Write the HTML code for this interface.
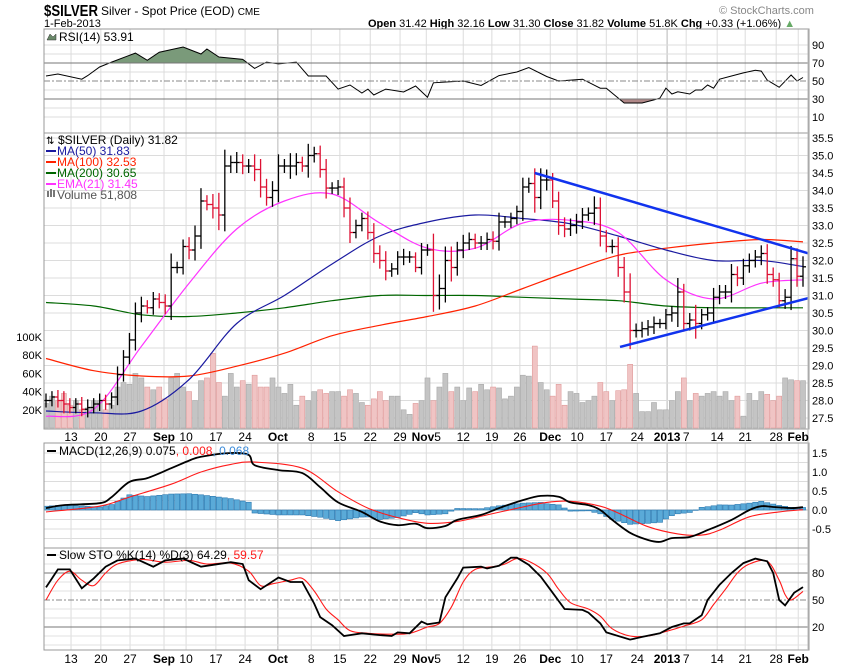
<!DOCTYPE html>
<html><head><meta charset="utf-8"><style>
body{margin:0;background:#fff;}
svg{display:block;font-family:"Liberation Sans",Arial,sans-serif;}
</style></head><body>
<svg id="chart" width="850" height="668" viewBox="0 0 850 668" xmlns="http://www.w3.org/2000/svg">
<text x="44" y="16" font-size="16" font-weight="bold" textLength="54" lengthAdjust="spacingAndGlyphs">$SILVER</text>
<text x="101" y="15" font-size="12">Silver - Spot Price (EOD) <tspan font-size="10">CME</tspan></text>
<text x="44" y="27" font-size="11">1-Feb-2013</text>
<text x="368" y="27" font-size="11"><tspan font-weight="bold">Open</tspan> 31.42 <tspan font-weight="bold">High</tspan> 32.16 <tspan font-weight="bold">Low</tspan> 31.30 <tspan font-weight="bold">Close</tspan> 31.82 <tspan font-weight="bold">Volume</tspan> 51.8K <tspan font-weight="bold">Chg</tspan> +0.33 (+1.06%) <tspan fill="#6a6">▲</tspan></text>
<text x="719" y="14" font-size="11" fill="#888">© StockCharts.com</text>
</svg>
<script>
const closes=[28.0,28.1,28.0,27.9,27.8,27.9,27.75,27.8,27.9,28.0,27.9,28.1,
28.74,29.24,29.73,30.5,30.7,30.65,30.9,30.8,30.7,31.8,31.8,32.4,32.3,32.7,33.7,33.6,33.5,33.3,34.7,34.8,34.8,34.7,34.7,34.6,34.1,33.8,34.0,34.7,34.7,34.7,34.8,34.7,35.0,35.05,
34.6,34.07,34.07,34.1,33.5,32.8,33.0,33.2,32.8,32.2,32.0,31.7,31.76,32.1,32.1,32.1,31.8,32.3,32.3,31.0,31.2,32.0,31.8,32.3,32.5,32.6,32.5,32.5,32.6,32.55,33.1,33.1,33.2,33.4,34.1,34.2,33.8,34.3,34.3,33.7,33.0,32.9,
33.0,33.1,33.3,33.35,33.5,32.7,32.4,32.4,31.8,31.1,30.0,30.0,30.05,30.1,30.2,30.2,30.45,30.5,31.1,30.2,30.3,30.2,30.45,30.5,30.95,31.1,31.1,31.6,31.5,31.85,32.0,32.1,32.2,31.6,31.45,30.85,30.95,32.05,31.55,31.82];
const ranges=[0.6,0.5,0.6,0.8,0.5,0.5,0.6,0.7,0.5,0.6,0.5,0.4,
0.7,0.6,0.6,0.9,0.8,0.5,0.6,0.5,0.7,1.2,0.5,0.6,0.8,0.9,1.1,0.5,0.9,1.3,1.4,0.6,0.9,0.7,0.6,1.0,0.9,0.7,0.8,1.0,0.6,1.1,0.8,0.5,1.0,0.6,
0.7,0.9,0.5,0.6,0.8,0.9,0.5,0.5,0.6,0.8,0.7,0.8,0.5,0.5,0.7,0.5,0.4,0.6,0.5,1.4,1.2,1.2,1.2,0.7,0.7,0.6,0.5,0.6,0.6,0.7,0.8,0.5,0.5,0.5,0.8,0.5,1.3,1.0,0.9,0.6,0.8,0.7,
0.6,0.7,0.6,0.5,1.0,0.9,0.5,0.6,0.8,0.9,1.6,0.6,0.6,0.6,0.6,0.4,0.5,0.6,1.2,0.7,0.6,1.3,0.5,0.5,0.8,0.6,0.6,0.9,0.7,0.6,0.6,0.6,0.7,0.8,0.6,0.6,0.7,1.1,0.9,0.9];
const volumes=[27,35,30,38,25,30,20,22,30,30,20,25,
45,50,48,60,55,45,42,45,32,55,60,45,40,30,52,55,82,50,35,60,45,52,48,58,45,45,55,45,38,48,25,35,30,40,
42,38,40,40,35,42,38,28,25,32,40,30,35,35,20,15,27,30,55,30,45,60,40,45,30,44,40,48,42,45,44,32,35,45,58,57,90,50,42,35,48,25,
40,38,28,30,35,50,40,30,41,42,70,38,18,18,28,20,20,30,40,55,30,38,35,38,40,35,40,30,35,13,38,30,40,37,30,35,55,53,52,52];
const maIdx=[0,8,16,24,32,40,48,56,64,72,80,88,96,104,112,120,127];
const ma50=[27.7,27.65,27.7,28.6,30.2,31.0,31.9,32.7,33.1,33.3,33.2,33.05,32.7,32.3,32.0,32.0,31.83];
const ma100=[29.2,28.85,28.7,28.7,28.98,29.35,29.85,30.15,30.4,30.7,31.2,31.7,32.15,32.35,32.5,32.6,32.53];
const ma200=[30.8,30.7,30.45,30.4,30.5,30.65,30.85,31.0,31.0,31.0,30.95,30.9,30.85,30.7,30.65,30.65,30.65];
const ema21=[27.55,27.75,29.55,31.35,32.9,33.7,33.9,33.07,32.35,32.35,33.07,33.15,32.8,31.45,30.9,31.35,31.45];
const trendUpperIdx=[82,128], trendUpperVal=[34.5,32.2];
const trendLowerIdx=[96.3,128], trendLowerVal=[29.53,30.93];
const rsiIdx=[0,2,6,7,9,11,15,17,19,23,26,27,29,33,35,37,39,42,44,47,49,51,53,54,55,57,60,62,64,65,70,73,76,79,81,84,86,90,93,94,97,100,102,103,104,105,106,108,109,110,111,112,113,115,117,119,120,121,123,125,126,127];
const rsiVal=[55.6,57.8,52,56,65.6,71,81,73,82,87.8,80,85.5,76.7,74,64,71,69,71,55.6,55.6,41,45.6,36.7,41,34.4,41,37.8,44.4,32,48,50,45,56,60,65,55,50,52,42,42,25.6,25.6,29,31,42,35.6,38,35.6,40,40,45.6,42,52,55.6,59,62,61,51,43,56.7,50,53.91];
const macdIdx=[0,3,9,11,14,17,21,24,26,31,34,35,39,43,46,49,53,56,59,62,64,67,69,73,76,80,83,86,88,91,93,95,98,101,103,105,108,111,115,118,120,122,125,127];
const macdVal=[0.05,0.13,0.18,0.34,0.74,0.84,1.1,1.3,1.4,1.5,1.45,1.18,1.05,0.97,0.6,0.2,-0.05,-0.3,-0.4,-0.36,-0.48,-0.42,-0.26,-0.13,0.05,0.26,0.37,0.35,0.2,0.13,0.0,-0.26,-0.6,-0.79,-0.84,-0.74,-0.71,-0.53,-0.26,0,0.1,0.08,0.05,0.075];
const sigIdx=[0,9,14,21,26,31,35,43,49,54,59,64,69,74,80,84,88,93,96,101,106,110,113,118,123,127];
const sigVal=[-0.05,0.1,0.34,0.68,1.0,1.2,1.26,1.1,0.48,0.05,-0.2,-0.35,-0.3,-0.13,0.08,0.2,0.23,0.1,-0.08,-0.44,-0.63,-0.66,-0.53,-0.18,-0.05,0.008];
const stoKIdx=[0,1,2,4,6,8,10,12,15,18,20,23,25,26,31,33,34,36,39,41,43,45,46,48,50,53,56,58,59,61,63,64,66,67,69,70,73,74,76,78,79,81,83,85,87,90,91,93,94,98,100,103,105,107,108,110,111,113,115,117,119,121,122,123,124,125.5,127];
const stoKVal=[64,74,84,84,63,74,87,94,96,87,94,96,90,87,92,90,72,62,75,70,70,46,31,22,10,13,11,10,14,13,26,23,25,53,74,86,87,85,88,97,97,89,76,58,40,39,36,24,14,6,9,13,20,24,24,33,50,67,80,91,96,93,80,50,44,58,64.29];
const stoDIdx=[0,2,4,6,8,10,12,16,20,24,27,31,34,36,38,41,43,45,47,49,51,54,58,61,64,66,68,70,72,75,77,79,81,84,86,88,91,93,95,98,101,104,107,110,112,114,116,118,121,123,124,125,127];
const stoDVal=[50,72,82,72,66,80,90,95,92,94,90,91,82,66,68,72,74,60,40,28,16,13,12,13,20,24,42,70,84,87,90,96,93,80,62,47,40,32,18,10,10,15,21,28,45,62,80,90,93,72,56,50,59.57];
const dateLabels=['13','20','27','Sep','10','17','24','Oct','8','15','22','29','Nov5','12','19','26','Dec','10','17','24','2013','7','14','21','28','Feb'];
const dateIdx=[4.2,9.2,14.1,19.8,23.5,28.5,33.4,38.9,44.5,49.3,54.4,59.4,63.8,70,74.8,79.5,84.6,89.1,94,99.2,104.2,107.4,112.6,117.3,122.5,126.2];
const priceTicks=[35.5,35.0,34.5,34.0,33.5,33.0,32.5,32.0,31.5,31.0,30.5,30.0,29.5,29.0,28.5,28.0,27.5];
const volTicks=[20,40,60,80,100];
const rsiTicks=[90,70,50,30,10];
const macdTicks=[1.5,1.0,0.5,0.0,-0.5];
const stoTicks=[80,50,20];

const NS='http://www.w3.org/2000/svg';
const svg=document.getElementById('chart');
const L=44,R=809;
const xs=i=>46+i*(757/127);
const py=p=>138+(35.5-p)*35;
const vy=v=>428-v*0.91;
const ry=v=>63+(70-v)*0.9;
const my=v=>510-v*38;
const sy=v=>645-v*0.9;
function mk(tag,attrs,parent){const e=document.createElementNS(NS,tag);for(const k in attrs)e.setAttribute(k,attrs[k]);(parent||svg).appendChild(e);return e;}
function txt(x,y,s,attrs,parent){const t=mk('text',Object.assign({x:x,y:y,'font-size':11},attrs||{}),parent);t.textContent=s;return t;}
function interp(idx,val,i){if(i<=idx[0])return val[0];for(let k=1;k<idx.length;k++){if(i<=idx[k]){const f=(i-idx[k-1])/(idx[k]-idx[k-1]);return val[k-1]+f*(val[k]-val[k-1]);}}return val[val.length-1];}
function pts(idx,val,fy){return idx.map((d,k)=>xs(d).toFixed(1)+','+fy(val[k]).toFixed(1)).join(' ');}
function smooth(idx,val,fy){
  const P=idx.map((d,k)=>[xs(d),fy(val[k])]);
  let s='M'+P[0][0].toFixed(1)+','+P[0][1].toFixed(1);
  for(let k=0;k<P.length-1;k++){
    const p0=P[k-1]||P[k],p1=P[k],p2=P[k+1],p3=P[k+2]||P[k+1];
    const c1=[p1[0]+(p2[0]-p0[0])/6,p1[1]+(p2[1]-p0[1])/6];
    const c2=[p2[0]-(p3[0]-p1[0])/6,p2[1]-(p3[1]-p1[1])/6];
    s+=' C'+c1[0].toFixed(1)+','+c1[1].toFixed(1)+' '+c2[0].toFixed(1)+','+c2[1].toFixed(1)+' '+p2[0].toFixed(1)+','+p2[1].toFixed(1);
  }
  return s;
}

const defs=mk('defs',{});
function clip(id,y0,y1){const c=mk('clipPath',{id:id},defs);mk('rect',{x:L,y:y0,width:R-L,height:y1-y0},c);}
clip('cRsi',29,133);clip('cMain',133,429);clip('cMacd',443,548);clip('cSto',548,650);
clip('cAbove70',29,ry(70));clip('cBelow30',ry(30),133);

const panels=[{n:'rsi-panel',y0:29,y1:133},{n:'price-panel',y0:133,y1:429},{n:'macd-panel',y0:443,y1:548},{n:'sto-panel',y0:548,y1:650}];
panels.forEach(p=>{
  const g=mk('g',{});
  
  
  dateIdx.forEach((d,k)=>{const strong=['Oct','2013'].includes(dateLabels[k]);mk('line',{x1:xs(d),x2:xs(d),y1:p.y0,y2:p.y1,stroke:strong?'#b8b8b8':'#dcdcdc','stroke-width':1},g);});
});
function hgrid(y,col,dash){const l=mk('line',{x1:L,x2:R,y1:y,y2:y,stroke:col,'stroke-width':1});if(dash)l.setAttribute('stroke-dasharray',dash);return l;}
for(let v=10;v<=90;v+=10){if(v!==30&&v!==50&&v!==70)hgrid(ry(v),'#dcdcdc');}
priceTicks.forEach(p=>hgrid(py(p),'#dcdcdc'));
for(let v=-0.75;v<=1.6;v+=0.25)hgrid(my(v),'#dcdcdc');
for(let v=0;v<=100;v+=10){if(v!==20&&v!==50&&v!==80)hgrid(sy(v),'#e2e2e2');}

// RSI
const rsiG=mk('g',{'clip-path':'url(#cRsi)'});


const rp=pts(rsiIdx,rsiVal,ry);
const x0=xs(rsiIdx[0]),x1=xs(rsiIdx[rsiIdx.length-1]);
mk('polygon',{points:x0+','+ry(70)+' '+rp+' '+x1+','+ry(70),fill:'#7a9a7a','clip-path':'url(#cAbove70)'},rsiG);
mk('polygon',{points:x0+','+ry(30)+' '+rp+' '+x1+','+ry(30),fill:'#b08888','clip-path':'url(#cBelow30)'},rsiG);
hgrid(ry(70),'#777');hgrid(ry(30),'#777');hgrid(ry(50),'#888','6,2,2,2');
mk('polyline',{points:rp,fill:'none',stroke:'#000','stroke-width':1},rsiG);

// volume
const volG=mk('g',{'clip-path':'url(#cMain)'});


volumes.forEach((v,i)=>{
  const down=i>0&&closes[i]<closes[i-1];
  const b=mk('rect',{x:xs(i)-2.5,y:vy(v),width:5,height:428-vy(v),fill:down?'#f0c4c4':'#c4c4c4',stroke:down?'#e09a9a':'#a8a8a8','stroke-width':0.6},volG);
  
  
});

// MAs
const maG=mk('g',{'clip-path':'url(#cMain)'});
[[ma200,'#006600','ma200-line'],[ma100,'#ff2200','ma100-line'],[ma50,'#1a1aa0','ma50-line'],[ema21,'#ff33ff','ema21-line']].forEach(([arr,col,nm])=>{
  const l=mk('path',{d:smooth(maIdx,arr,py),fill:'none',stroke:col,'stroke-width':1.2},maG);
  
  
});

// price bars
const pg=mk('g',{'clip-path':'url(#cMain)'});


closes.forEach((c,i)=>{
  const o=i>0?closes[i-1]:c;
  const down=i>0&&c<o;
  const col=down?'#dd1133':'#000';
  const hi=Math.max(o,c)+ranges[i]/3,lo=Math.min(o,c)-ranges[i]/3;
  const x=xs(i);
  const g=mk('g',{stroke:col,'stroke-width':1.3},pg);
  
  
  mk('line',{x1:x,x2:x,y1:py(hi),y2:py(lo)},g);
  mk('line',{x1:x-3,x2:x,y1:py(o),y2:py(o)},g);
  mk('line',{x1:x,x2:x+3,y1:py(c),y2:py(c)},g);
});

// trendlines
[[trendUpperIdx,trendUpperVal,'upper-trendline'],[trendLowerIdx,trendLowerVal,'lower-trendline']].forEach(([ix,vv,nm])=>{
  const l=mk('line',{x1:xs(ix[0]),y1:py(vv[0]),x2:xs(ix[1]),y2:py(vv[1]),stroke:'#1133ee','stroke-width':2.5,'clip-path':'url(#cMain)'});
  
  
});

// MACD
hgrid(my(0),'#bbb');
const mg=mk('g',{'clip-path':'url(#cMacd)'});


for(let i=0;i<closes.length;i++){
  const h=interp(macdIdx,macdVal,i)-interp(sigIdx,sigVal,i);
  const y=my(Math.max(h,0)),hh=Math.abs(my(h)-my(0));
  const b=mk('rect',{x:xs(i)-2.6,y:y,width:5.2,height:Math.max(hh,0.5),fill:'#5aaad8',stroke:'#2a78b0','stroke-width':0.6},mg);
  
  
}
const sigL=mk('path',{d:smooth(sigIdx,sigVal,my),fill:'none',stroke:'#ff1a1a','stroke-width':1.1},mg);


const macL=mk('path',{d:smooth(macdIdx,macdVal,my),fill:'none',stroke:'#000','stroke-width':1.8},mg);



// STO
hgrid(sy(80),'#777');hgrid(sy(20),'#777');hgrid(sy(50),'#888','6,2,2,2');
const sg=mk('g',{'clip-path':'url(#cSto)'});


const dL=mk('path',{d:smooth(stoDIdx,stoDVal,sy),fill:'none',stroke:'#ff1a1a','stroke-width':1.1},sg);


const kL=mk('polyline',{points:pts(stoKIdx,stoKVal,sy),fill:'none',stroke:'#000','stroke-width':1.8},sg);



// borders
panels.forEach(p=>{const b=mk('rect',{x:L,y:p.y0,width:R-L,height:p.y1-p.y0,fill:'none',stroke:'#999','stroke-width':1});});
mk('line',{x1:R-1,x2:R-1,y1:29,y2:650,stroke:'#bbb'});

// axis labels
rsiTicks.forEach(v=>{const t=txt(812,ry(v)+4,String(v));});
priceTicks.forEach(v=>{const t=txt(812,py(v)+4,v.toFixed(1));});
volTicks.forEach(v=>{const t=txt(42,vy(v)+4,v+'K',{'text-anchor':'end'});});
macdTicks.forEach(v=>{const t=txt(812,my(v)+4,v.toFixed(1));});
stoTicks.forEach(v=>{const t=txt(812,sy(v)+4,String(v));});
const bolds=['Sep','Oct','Dec','2013','Feb'];
[441,663].forEach(yy=>{
  dateLabels.forEach((s,k)=>{
    let t;
    if(s==='Nov5'){t=txt(xs(dateIdx[k]),yy,'',{'text-anchor':'middle','font-size':12});const a=mk('tspan',{'font-weight':'bold'},t);a.textContent='Nov';const b=mk('tspan',{},t);b.textContent='5';}
    else t=txt(xs(dateIdx[k]),yy,s,{'text-anchor':'middle','font-size':12,'font-weight':bolds.includes(s)?'bold':'normal'});
    
    
  });
});

// legends
const rl=txt(59,41,'RSI(14) 53.91',{'font-size':12});


mk('polygon',{points:'47,40 50,34 53,37 56,34 56,40',fill:'#6a8a6a',stroke:'#333','stroke-width':0.5});
const mainLeg=[['$SILVER (Daily) 31.82','#000',null,'price-legend'],['MA(50) 31.83','#1a1aa0','#1a1aa0','ma50-legend'],['MA(100) 32.53','#ff2200','#ff2200','ma100-legend'],['MA(200) 30.65','#006600','#006600','ma200-legend'],['EMA(21) 31.45','#ff33ff','#ff33ff','ema21-legend'],['Volume 51,808','#555',null,'volume-legend']];
mainLeg.forEach((m,k)=>{
  const y=144+k*11;
  if(m[2])mk('line',{x1:46,x2:56,y1:y-4,y2:y-4,stroke:m[2],'stroke-width':2});
  const t=txt(k===0?58:57,y,m[0],{fill:m[1],'font-size':12});
  
  
});
txt(46,144,'⇅',{'font-size':10});
mk('rect',{x:47,y:191,width:2,height:6,fill:'#777'});mk('rect',{x:50,y:189,width:2,height:8,fill:'#777'});mk('rect',{x:53,y:190,width:2,height:7,fill:'#777'});
mk('line',{x1:47,x2:56,y1:451,y2:451,stroke:'#000','stroke-width':2});
const ml=txt(59,455,'',{'font-size':12});


[['MACD(12,26,9) 0.075','#000'],[', 0.008','#ff1a1a'],[', 0.068','#3a8ad8']].forEach(([s,c])=>{const t=mk('tspan',{fill:c},ml);t.textContent=s;});
mk('line',{x1:47,x2:56,y1:555,y2:555,stroke:'#000','stroke-width':2});
const sl=txt(59,559,'',{'font-size':12});


[['Slow STO %K(14) %D(3) 64.29','#000'],[', 59.57','#ff1a1a']].forEach(([s,c])=>{const t=mk('tspan',{fill:c},sl);t.textContent=s;});
</script>
</body></html>
